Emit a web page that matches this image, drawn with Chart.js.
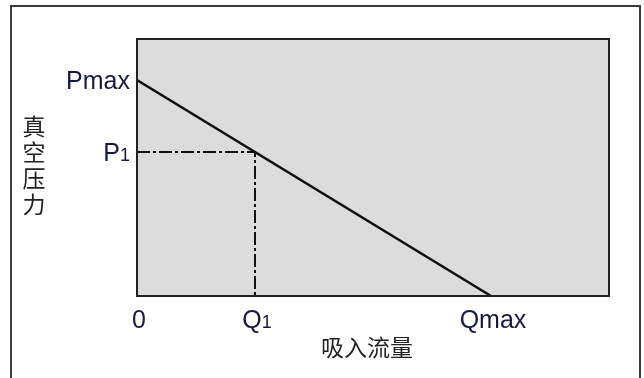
<!DOCTYPE html>
<html>
<head>
<meta charset="utf-8">
<script src="https://cdn.jsdelivr.net/npm/chart.js@4"></script>
<style>
  html, body { margin: 0; padding: 0; background: #fff; }
  #wrap { width: 644px; height: 378px; }
</style>
</head>
<body>
<div id="wrap"><canvas id="pump-chart" width="644" height="378"></canvas></div>
<script>
// axis labels
const flowLabels = ['0', 'Q1', 'Qmax'];
const flowValues = [0, 25, 75];
const pressureLabels = ['P1', 'Pmax'];
const pressureValues = [56, 84];

// pump curve: pressure falls from Pmax at zero flow to zero at Qmax
const curveFlow = [0, 75];
const curvePressure = [84, 0];

// operating point
const pointFlow = 25;
const pointPressure = 56;

const xTitle = '吸入流量';
const yTitle = ['真', '空', '压', '力'];

const latinFont = '"Liberation Sans", Arial, sans-serif';
const cjkFont = '"Noto Sans CJK SC", sans-serif';
const labelColor = '#151a3e';

// draw a label like "P1" with a smaller trailing digit
function drawLabel(ctx, text, x, y, align) {
    const m = text.match(/^([A-Za-z]+)(\d)$/);
    let main = text, sub = '';
    if (m) { main = m[1]; sub = m[2]; }
    ctx.font = '25px ' + latinFont;
    const w1 = ctx.measureText(main).width;
    ctx.font = '18px ' + latinFont;
    const w2 = sub ? ctx.measureText(sub).width : 0;
    const total = w1 + w2;
    let left = x;
    if (align === 'center') left = x - total / 2;
    if (align === 'right') left = x - total;
    ctx.textAlign = 'left';
    ctx.textBaseline = 'alphabetic';
    ctx.fillStyle = labelColor;
    ctx.font = '25px ' + latinFont;
    ctx.fillText(main, left, y);
    if (sub) {
        ctx.font = '18px ' + latinFont;
        ctx.fillText(sub, left + w1, y);
    }
}

const framePlugin = {
    id: 'frame',
    beforeDraw(chart) {
        const ctx = chart.ctx;
        const a = chart.chartArea;
        ctx.save();
        ctx.fillStyle = '#fff';
        ctx.fillRect(0, 0, chart.width, chart.height);
        // outer box
        ctx.strokeStyle = '#3a3a3a';
        ctx.lineWidth = 2;
        ctx.strokeRect(11, 6, 629, 400);
        // plot background
        ctx.fillStyle = '#dcdcdc';
        ctx.fillRect(a.left, a.top, a.right - a.left, a.bottom - a.top);
        ctx.restore();
    },
    afterDraw(chart) {
        const ctx = chart.ctx;
        const a = chart.chartArea;
        const xs = chart.scales.x;
        const ys = chart.scales.y;
        ctx.save();
        ctx.strokeStyle = '#222';
        ctx.lineWidth = 2;
        ctx.strokeRect(a.left, a.top, a.right - a.left, a.bottom - a.top);

        // tick labels
        flowLabels.forEach((t, i) => {
            drawLabel(ctx, t, xs.getPixelForValue(flowValues[i]) + 2, a.bottom + 32, 'center');
        });
        pressureLabels.forEach((t, i) => {
            drawLabel(ctx, t, a.left - 7, ys.getPixelForValue(pressureValues[i]) + 9, 'right');
        });

        // axis titles
        ctx.fillStyle = '#222';
        ctx.font = '23px ' + cjkFont;
        ctx.textAlign = 'center';
        ctx.textBaseline = 'middle';
        ctx.fillText(xTitle, 367, 347);
        yTitle.forEach((c, i) => {
            ctx.fillText(c, 34, 126 + i * 26);
        });
        ctx.restore();
    }
};

const data = {
    datasets: [
        {
            label: 'curve',
            data: curveFlow.map((q, i) => ({ x: q, y: curvePressure[i] })),
            borderColor: '#111',
            borderWidth: 2.5,
            pointRadius: 0,
            tension: 0
        },
        {
            label: 'guide',
            data: [
                { x: flowValues[0], y: pointPressure },
                { x: pointFlow, y: pointPressure },
                { x: pointFlow, y: 0 }
            ],
            borderColor: '#111',
            borderWidth: 2,
            borderDash: [13, 3, 3, 3],
            pointRadius: 0,
            tension: 0
        }
    ]
};

const config = {
    type: 'line',
    data: data,
    options: {
        responsive: false,
        animation: false,
        layout: { padding: { left: 137, top: 39, right: 35, bottom: 82 } },
        plugins: { legend: { display: false }, tooltip: { enabled: false } },
        scales: {
            x: { type: 'linear', min: 0, max: 100, display: false },
            y: { type: 'linear', min: 0, max: 100, display: false }
        }
    },
    plugins: [framePlugin]
};

const pumpChart = new Chart(document.getElementById('pump-chart'), config);
</script>
</body>
</html>
